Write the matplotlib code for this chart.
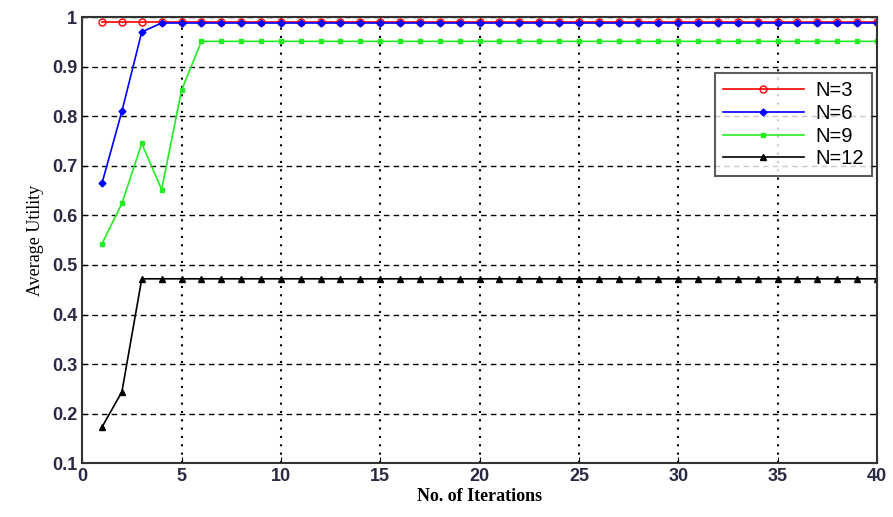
import matplotlib.pyplot as plt
from matplotlib.ticker import FuncFormatter

iters = list(range(1, 41))

n3 = [0.99] * 40
n6 = [0.665, 0.81, 0.97] + [0.988] * 37
n9 = [0.543, 0.624, 0.745, 0.652, 0.852] + [0.951] * 35
n12 = [0.173, 0.244] + [0.472] * 38

fig = plt.figure(figsize=(8.93, 5.17), dpi=100)
ax = fig.add_axes([0.092, 0.104, 0.89, 0.863])

ax.plot(iters, n3, color="red", marker="o", markersize=5, markerfacecolor="none", linewidth=1.2, label="N=3")
ax.plot(iters, n6, color="blue", marker="D", markersize=3.5, linewidth=1.2, label="N=6")
ax.plot(iters, n9, color="#22ee22", marker="s", markersize=2.5, linewidth=1.2, label="N=9")
ax.plot(iters, n12, color="black", marker="^", markersize=4, linewidth=1.2, label="N=12")

ax.set_xlim(0, 40)
ax.set_ylim(0.1, 1)
ax.set_xticks(range(0, 41, 5))
ax.set_yticks([0.1, 0.2, 0.3, 0.4, 0.5, 0.6, 0.7, 0.8, 0.9, 1.0])
ax.yaxis.set_major_formatter(FuncFormatter(lambda v, p: "1" if v == 1 else "%g" % v))

ax.yaxis.grid(True, linestyle=(0, (4, 3)), color="black", linewidth=1)
ax.xaxis.grid(True, linestyle=(0, (1, 3)), color="black", linewidth=1.5)

ax.tick_params(direction="in", top=True, right=True, length=4, labelsize=13, labelcolor="#2a2a44")
for lbl in ax.get_xticklabels() + ax.get_yticklabels():
    lbl.set_family("Liberation Sans")
    lbl.set_fontweight("bold")
for s in ax.spines.values():
    s.set_linewidth(1.5)
    s.set_color("#333333")

ax.set_xlabel("No. of Iterations", family="Liberation Serif", fontweight="bold", fontsize=13, labelpad=2)
ax.set_ylabel("Average Utility", family="Liberation Serif", fontsize=13, labelpad=6)

leg = ax.legend(loc="upper right", bbox_to_anchor=(0.994, 0.874), borderaxespad=0, fancybox=False,
                edgecolor="#333333", prop={"family": "Liberation Sans", "size": 14.5}, handlelength=4.0,
                handletextpad=0.6, borderpad=0.4, labelspacing=0.18)
leg.get_frame().set_linewidth(1.5)

fig.savefig("out.png", dpi=100)
